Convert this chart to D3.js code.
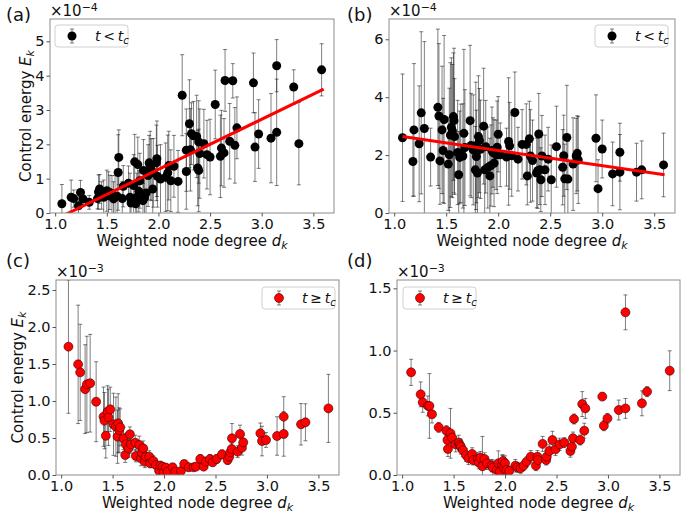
<!DOCTYPE html>
<html><head><meta charset="utf-8">
<script src="https://cdn.jsdelivr.net/npm/d3@7"></script>
<style>
body{margin:0;background:#fff}
text{font-family:"DejaVu Sans",sans-serif;fill:#111}
</style></head><body>
<svg id="fig" width="681" height="519"></svg>
<script>
// each point: [weighted node degree, control energy, error]
const pointsA = [ // x1e-4, t < tc
[1.065,0.27,0.56],[1.155,0.46,0.50],[1.18,0.42,0.25],[1.226,0.21,0.40],[1.245,0.60,0.35],[1.27,0.41,0.20],
[1.33,0.31,0.20],[1.41,0.42,0.30],[1.42,0.61,0.50],[1.43,0.70,0.42],[1.45,0.51,0.40],[1.47,0.46,0.50],
[1.50,0.65,0.60],[1.516,0.50,0.70],[1.53,0.60,0.50],[1.55,0.49,0.60],[1.565,0.41,0.50],[1.58,0.49,0.60],
[1.60,0.49,0.70],[1.61,1.18,1.10],[1.616,1.62,0.80],[1.65,0.42,0.50],[1.66,0.78,0.60],[1.71,0.87,0.50],
[1.725,0.46,0.70],[1.735,0.29,0.60],[1.76,0.80,0.90],[1.77,1.49,0.80],[1.78,0.27,0.60],[1.79,0.46,0.70],
[1.80,1.41,0.80],[1.81,0.63,0.60],[1.82,0.94,0.80],[1.85,0.36,0.50],[1.855,1.24,0.90],[1.865,0.44,0.60],
[1.88,0.58,0.70],[1.90,1.09,0.90],[1.91,1.46,0.80],[1.92,1.38,1.00],[1.93,1.26,0.90],[1.945,0.70,0.80],
[1.95,1.17,1.00],[1.98,1.46,1.10],[1.985,1.58,1.10],[1.99,1.07,0.90],[2.02,0.99,1.00],[2.07,1.04,1.00],
[2.09,1.17,1.10],[2.10,1.38,1.00],[2.12,0.94,0.90],[2.15,1.36,0.90],[2.19,0.92,0.90],[2.23,3.43,1.18],
[2.27,1.83,1.20],[2.27,1.21,1.10],[2.30,2.60,1.28],[2.31,1.84,1.20],[2.32,2.31,0.90],[2.34,2.25,1.00],
[2.37,2.23,1.20],[2.38,1.31,1.10],[2.39,1.24,1.20],[2.39,2.07,1.20],[2.40,1.73,1.30],[2.44,2.02,1.00],
[2.47,1.70,1.00],[2.50,1.63,1.10],[2.55,3.16,1.00],[2.60,1.65,1.20],[2.61,1.89,1.10],[2.635,1.75,1.00],
[2.645,3.86,0.90],[2.69,2.09,1.10],[2.72,3.85,0.50],[2.74,1.97,1.10],[2.76,2.48,0.90],[2.92,3.79,0.87],
[2.935,1.92,1.00],[2.97,2.30,1.00],[3.09,2.18,1.30],[3.145,4.29,0.76],[3.145,2.35,1.55],[3.31,3.67,0.50],
[3.36,2.02,1.20],[3.58,4.17,0.76]];

const pointsB = [ // x1e-4, t < tc
[1.08,2.60,2.20],[1.18,1.78,1.20],[1.19,2.87,2.29],[1.24,2.39,2.00],[1.26,3.46,2.80],[1.29,2.92,3.00],
[1.35,1.93,1.00],[1.42,3.65,2.70],[1.43,3.35,2.50],[1.44,1.80,1.50],[1.46,2.87,2.20],[1.47,2.16,1.80],
[1.48,3.23,2.90],[1.52,1.69,1.60],[1.53,2.01,2.30],[1.54,2.69,2.50],[1.55,2.96,2.40],[1.56,2.83,2.30],
[1.57,3.33,2.20],[1.575,3.19,2.50],[1.58,2.64,2.00],[1.61,2.09,1.80],[1.62,1.32,1.50],[1.63,1.92,1.60],
[1.64,2.06,1.70],[1.66,1.97,1.80],[1.67,2.75,2.90],[1.68,2.26,2.00],[1.73,3.19,2.60],[1.74,2.33,1.80],
[1.76,2.18,1.90],[1.78,1.49,1.50],[1.785,2.32,2.20],[1.79,1.95,1.60],[1.80,1.38,1.40],[1.81,2.64,2.10],
[1.82,2.50,1.80],[1.83,2.20,1.70],[1.86,3.00,2.00],[1.87,1.49,1.50],[1.88,2.29,1.60],[1.90,1.57,1.40],
[1.92,1.28,1.30],[1.93,1.64,1.40],[1.94,2.16,1.50],[1.95,2.09,1.20],[1.96,1.72,1.50],[1.98,2.01,1.20],
[1.99,2.27,1.60],[2.00,2.72,1.30],[2.02,2.01,1.10],[2.08,1.93,1.00],[2.10,2.47,2.20],[2.11,2.32,1.50],
[2.13,1.98,1.40],[2.16,3.47,1.40],[2.19,1.86,1.10],[2.23,2.37,1.20],[2.27,2.37,1.40],[2.28,1.28,1.00],
[2.30,2.56,1.30],[2.31,1.97,1.60],[2.33,1.81,1.40],[2.37,1.38,1.20],[2.38,1.46,1.30],[2.39,2.73,1.40],
[2.40,1.49,1.20],[2.41,1.15,1.10],[2.42,1.97,1.40],[2.45,1.49,1.20],[2.48,1.86,1.10],[2.51,1.15,1.20],
[2.56,2.29,1.40],[2.62,1.58,1.30],[2.63,1.98,1.40],[2.64,1.18,1.20],[2.66,2.61,1.80],[2.67,1.17,1.30],
[2.72,1.69,1.60],[2.75,1.97,1.30],[2.76,2.06,1.30],[2.77,1.83,1.50],[2.94,2.58,1.50],[2.96,0.84,1.00],
[3.00,2.21,1.00],[3.10,1.35,1.10],[3.17,1.41,1.30],[3.17,2.10,1.00],[3.33,1.41,1.00],[3.38,1.49,1.00],
[3.59,1.66,1.10]];

const pointsC = [ // x1e-3, t >= tc
[1.071,1.734,0.90],[1.165,1.495,0.80],[1.185,1.387,0.65],[1.233,1.16,0.60],[1.25,1.225,0.65],[1.282,1.24,0.66],
[1.34,0.99,0.54],[1.412,0.788,0.40],[1.421,0.734,0.38],[1.434,0.53,0.30],[1.451,0.856,0.35],[1.46,0.78,0.38],
[1.477,0.887,0.30],[1.509,0.685,0.42],[1.532,0.653,0.40],[1.548,0.518,0.36],[1.554,0.698,0.40],[1.564,0.608,0.30],
[1.574,0.644,0.25],[1.606,0.495,0.15],[1.623,0.27,0.10],[1.629,0.414,0.15],[1.655,0.36,0.12],[1.668,0.55,0.10],
[1.678,0.414,0.12],[1.72,0.437,0.10],[1.726,0.257,0.08],[1.759,0.405,0.12],[1.775,0.225,0.10],[1.785,0.30,0.12],
[1.798,0.36,0.10],[1.814,0.18,0.08],[1.824,0.248,0.10],[1.856,0.248,0.08],[1.866,0.158,0.06],[1.895,0.19,0.07],
[1.921,0.135,0.08],[1.953,0.054,0.05],[1.963,0.126,0.06],[1.986,0.113,0.05],[1.995,0.032,0.04],[2.018,0.10,0.05],
[2.034,0.045,0.04],[2.083,0.104,0.05],[2.109,0.045,0.04],[2.164,0.054,0.04],[2.196,0.149,0.05],[2.239,0.104,0.05],
[2.287,0.104,0.04],[2.31,0.113,0.05],[2.352,0.216,0.06],[2.385,0.113,0.05],[2.407,0.18,0.06],[2.446,0.216,0.06],
[2.472,0.171,0.05],[2.511,0.216,0.06],[2.563,0.279,0.06],[2.618,0.203,0.06],[2.634,0.248,0.06],[2.644,0.306,0.07],
[2.657,0.351,0.08],[2.66,0.495,0.20],[2.715,0.315,0.08],[2.738,0.554,0.12],[2.757,0.369,0.10],[2.77,0.441,0.10],
[2.936,0.563,0.14],[2.952,0.459,0.20],[2.991,0.473,0.10],[3.098,0.527,0.26],[3.163,0.788,0.27],[3.163,0.554,0.30],
[3.331,0.685,0.28],[3.374,0.712,0.25],[3.597,0.90,0.46]];

const pointsD = [ // x1e-3, t >= tc
[1.087,0.825,0.105],[1.18,0.648,0.10],[1.20,0.584,0.08],[1.25,0.555,0.08],[1.265,0.555,0.26],[1.29,0.488,0.07],
[1.355,0.383,0.04],[1.43,0.356,0.04],[1.44,0.281,0.05],[1.445,0.209,0.06],[1.47,0.335,0.20],[1.485,0.30,0.05],
[1.52,0.246,0.06],[1.55,0.26,0.06],[1.56,0.24,0.05],[1.57,0.228,0.06],[1.59,0.20,0.05],[1.62,0.16,0.05],
[1.645,0.134,0.05],[1.68,0.169,0.05],[1.69,0.12,0.04],[1.735,0.129,0.05],[1.745,0.10,0.05],[1.76,0.139,0.05],
[1.78,0.07,0.24],[1.80,0.129,0.05],[1.825,0.094,0.05],[1.87,0.075,0.05],[1.88,0.059,0.06],[1.92,0.04,0.06],
[1.935,0.094,0.10],[1.95,0.027,0.04],[1.97,0.08,0.08],[1.98,0.112,0.05],[1.99,0.054,0.05],[2.00,0.094,0.06],
[2.015,0.04,0.04],[2.04,0.032,0.04],[2.10,0.075,0.05],[2.12,0.062,0.04],[2.15,0.054,0.04],[2.18,0.075,0.04],
[2.21,0.107,0.04],[2.25,0.147,0.05],[2.30,0.075,0.04],[2.315,0.147,0.05],[2.32,0.12,0.04],[2.365,0.25,0.06],
[2.40,0.12,0.04],[2.405,0.147,0.05],[2.43,0.193,0.05],[2.46,0.281,0.07],[2.49,0.206,0.05],[2.53,0.246,0.05],
[2.575,0.26,0.04],[2.635,0.193,0.05],[2.65,0.228,0.05],[2.66,0.295,0.05],[2.67,0.45,0.04],[2.73,0.281,0.04],
[2.75,0.57,0.10],[2.77,0.356,0.06],[2.78,0.535,0.08],[2.945,0.63,0.02],[2.96,0.396,0.04],[2.995,0.455,0.04],
[3.105,0.522,0.08],[3.17,1.307,0.14],[3.17,0.535,0.08],[3.33,0.576,0.10],[3.38,0.67,0.04],[3.60,0.838,0.16]];

// linear fits in panels (a) and (b), units of 1e-4
const fitA = {slope: 1.46, intercept: -1.65};
const fitB = {slope: -0.524, intercept: 3.206};

const xTicks = [1.0, 1.5, 2.0, 2.5, 3.0, 3.5];
const yTicksA = [0, 1, 2, 3, 4, 5];
const yTicksB = [0, 2, 4, 6];
const yTicksC = [0, 0.5, 1.0, 1.5, 2.0, 2.5];
const yTicksD = [0, 0.5, 1.0, 1.5];

const svg = d3.select("#fig");
const xDomain = [0.95, 3.70];

const panels = [
  {id: "a", pts: pointsA, left: 50, right: 334, top: 19, bottom: 213, yMax: 5.65, yTicks: yTicksA,
   fmt: d3.format("d"), exp: "−4", fill: "#000", fit: fitA, lx: 6, legend: [55, 25], rel: "<", yTitle: true},
  {id: "b", pts: pointsB, left: 389, right: 675, top: 19, bottom: 213, yMax: 6.7, yTicks: yTicksB,
   fmt: d3.format("d"), exp: "−4", fill: "#000", fit: fitB, lx: 347, legend: [595, 25], rel: "<", yTitle: false},
  {id: "c", pts: pointsC, left: 56, right: 339, top: 280, bottom: 475, yMax: 2.635, yTicks: yTicksC,
   fmt: d3.format(".1f"), exp: "−3", fill: "#ff0000", fit: null, lx: 6, legend: [262, 287], rel: "≥", yTitle: true},
  {id: "d", pts: pointsD, left: 397, right: 680, top: 280, bottom: 475, yMax: 1.567, yTicks: yTicksD,
   fmt: d3.format(".1f"), exp: "−3", fill: "#ff0000", fit: null, lx: 347, legend: [403, 287], rel: "≥", yTitle: false},
];

const barColor = "#000", barOpacity = 0.5, cap = 2;

function errorBar(g, cx, y1, y2) {
  g.append("line").attr("x1", cx).attr("x2", cx).attr("y1", y1).attr("y2", y2);
  g.append("line").attr("x1", cx - cap).attr("x2", cx + cap).attr("y1", y1).attr("y2", y1);
  g.append("line").attr("x1", cx - cap).attr("x2", cx + cap).attr("y1", y2).attr("y2", y2);
}

panels.forEach(p => {
  const x = d3.scaleLinear().domain(xDomain).range([p.left, p.right]);
  const y = d3.scaleLinear().domain([0, p.yMax]).range([p.bottom, p.top]);
  const g = svg.append("g");

  svg.append("clipPath").attr("id", "clip-" + p.id)
    .append("rect").attr("x", p.left).attr("y", p.top)
    .attr("width", p.right - p.left).attr("height", p.bottom - p.top);

  const plot = g.append("g").attr("clip-path", `url(#clip-${p.id})`);

  // error bars first, markers on top (like matplotlib errorbar)
  const bars = plot.append("g").attr("stroke", barColor).attr("stroke-opacity", barOpacity).attr("stroke-width", 1);
  p.pts.forEach(d => errorBar(bars, x(d[0]), y(d[1] + d[2]), y(d[1] - d[2])));

  plot.append("g").selectAll("circle").data(p.pts).enter().append("circle")
    .attr("cx", d => x(d[0]))
    .attr("cy", d => y(d[1]))
    .attr("r", 4.5)
    .attr("fill", p.fill)
    .attr("stroke", p.fill === "#000" ? "none" : "#3a0000")
    .attr("stroke-width", 0.6);

  if (p.fit) {
    const ends = [xDomain[0] + 0.13, 3.6];
    plot.append("line")
      .attr("x1", x(ends[0])).attr("y1", y(p.fit.slope * ends[0] + p.fit.intercept))
      .attr("x2", x(ends[1])).attr("y2", y(p.fit.slope * ends[1] + p.fit.intercept))
      .attr("stroke", "#ff0000").attr("stroke-width", 3);
  }

  // frame
  g.append("rect").attr("x", p.left).attr("y", p.top)
    .attr("width", p.right - p.left).attr("height", p.bottom - p.top)
    .attr("fill", "none").attr("stroke", "#8c8c8c").attr("stroke-width", 1);

  const xAxis = g.append("g").attr("transform", `translate(0,${p.bottom})`)
    .call(d3.axisBottom(x).tickValues(xTicks).tickSize(3.5).tickPadding(2.5).tickFormat(d3.format(".1f")));
  const yAxis = g.append("g").attr("transform", `translate(${p.left},0)`)
    .call(d3.axisLeft(y).tickValues(p.yTicks).tickSize(3.5).tickPadding(2).tickFormat(p.fmt));
  [xAxis, yAxis].forEach(a => {
    a.select(".domain").remove();
    a.selectAll(".tick line").attr("stroke", "#555");
    a.selectAll(".tick text").attr("font-size", 14.5).attr("font-family", "DejaVu Sans").attr("fill", "#111");
  });

  // offset text ×10^-n
  const off = g.append("text").attr("x", p.left).attr("y", p.top - 3).attr("font-size", 15);
  off.append("tspan").text("×10");
  off.append("tspan").attr("dy", "-0.45em").attr("font-size", 11).text(p.exp);

  // panel label
  g.append("text").attr("x", p.lx).attr("y", p.top + (p.id < "c" ? 2 : -13))
    .attr("font-size", 18).text(`(${p.id})`);

  // x title
  const xt = g.append("text").attr("x", (p.left + p.right) / 2).attr("y", p.bottom + 33)
    .attr("text-anchor", "middle").attr("font-size", 15);
  xt.append("tspan").text("Weighted node degree ");
  xt.append("tspan").attr("font-style", "italic").text("d");
  xt.append("tspan").attr("font-style", "italic").attr("font-size", 11).attr("dy", "0.25em").text("k");

  if (p.yTitle) {
    const cy = (p.top + p.bottom) / 2;
    const cx = p.id === "a" ? 26 : 18;
    const yt = g.append("text").attr("transform", `translate(${cx},${cy}) rotate(-90)`)
      .attr("text-anchor", "middle").attr("dy", "0.35em").attr("font-size", 15);
    yt.append("tspan").text("Control energy ");
    yt.append("tspan").attr("font-style", "italic").text("E");
    yt.append("tspan").attr("font-style", "italic").attr("font-size", 11).attr("dy", "0.25em").text("k");
  }

  // legend
  const [lx, ly] = p.legend;
  const lg = g.append("g");
  lg.append("rect").attr("x", lx).attr("y", ly).attr("width", 73).attr("height", 22).attr("rx", 3)
    .attr("fill", "#fff").attr("stroke", "#d0d0d0").attr("stroke-width", 1);
  const mx = lx + 17, my = ly + 11;
  const lb = lg.append("g").attr("stroke", barColor).attr("stroke-opacity", barOpacity).attr("stroke-width", 1);
  errorBar(lb, mx, my - 7, my + 7);
  lg.append("circle").attr("cx", mx).attr("cy", my).attr("r", 4.5).attr("fill", p.fill)
    .attr("stroke", p.fill === "#000" ? "none" : "#3a0000").attr("stroke-width", 0.6);
  const lt = lg.append("text").attr("x", lx + 40).attr("y", my + 5).attr("font-size", 14);
  lt.append("tspan").attr("font-style", "italic").text("t");
  lt.append("tspan").text(p.rel === "<" ? "\u2009<\u2009" : "\u2009≥\u2009");
  lt.append("tspan").attr("font-style", "italic").text("t");
  lt.append("tspan").attr("font-style", "italic").attr("font-size", 10).attr("dy", "0.25em").text("c");
});
</script>
</body></html>
